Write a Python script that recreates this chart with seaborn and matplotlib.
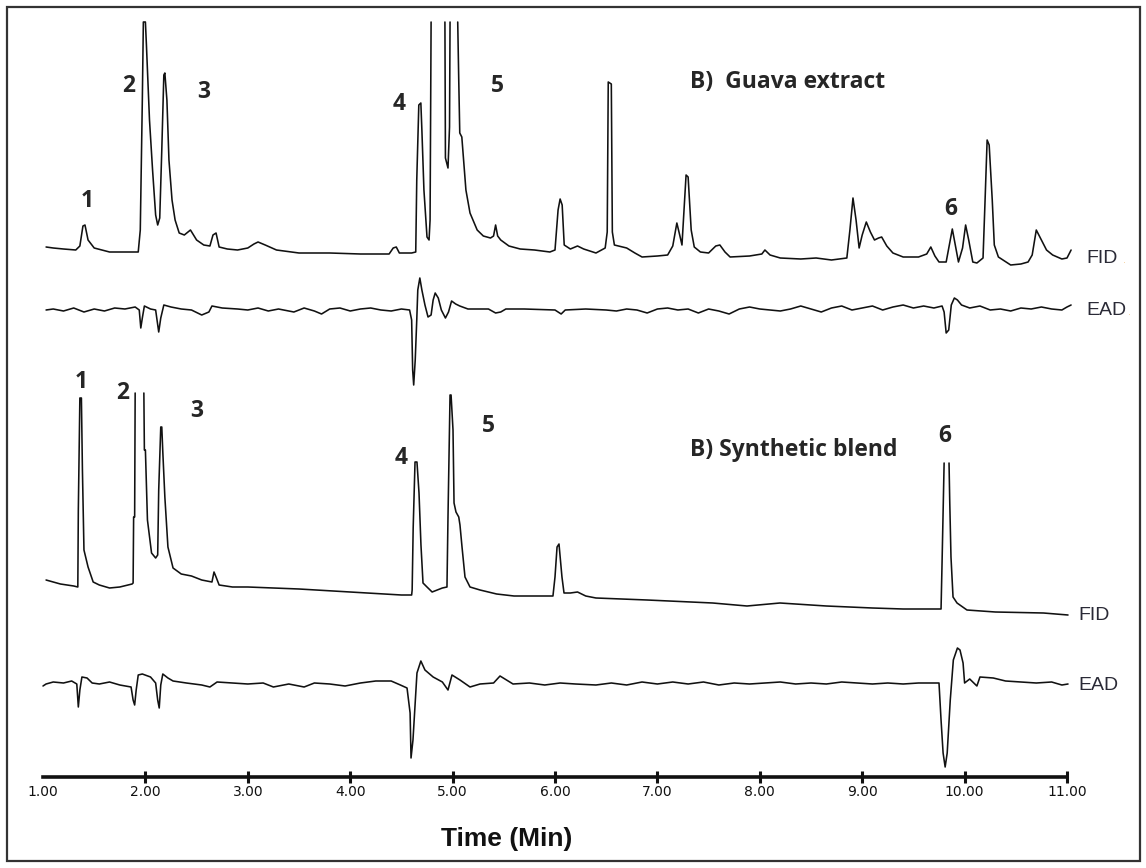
import numpy as np
import matplotlib
matplotlib.use("Agg")
import matplotlib.pyplot as plt
import seaborn as sns
from matplotlib.patches import Rectangle

nan = np.nan

# ---- data (retention time in min, detector response in arbitrary units) ----
# B) Guava extract, FID (nan = pen out of range)
guava_fid_time = [1.03, 1.10, 1.20, 1.32, 1.36, 1.39, 1.41, 1.44, 1.50, 1.65, 1.80, 1.93, 1.95, 1.97, 1.98,
                  2.00, 2.01, 2.04, 2.07, 2.10, 2.12, 2.14, 2.16, 2.18, 2.19, 2.21, 2.23, 2.26, 2.29, 2.33,
                  2.38, 2.44, 2.50, 2.57, 2.63, 2.66, 2.69, 2.72, 2.80, 2.90, 3.00, 3.06, 3.10, 3.17, 3.28,
                  3.50, 3.80, 4.10, 4.38, 4.42, 4.45, 4.48, 4.60, 4.64, 4.65, 4.67, 4.69, 4.70, 4.72, 4.75,
                  4.77, 4.78, 4.79, 4.86, 4.925, 4.93, 4.955, 4.97, 4.975, 5.01, 5.05, 5.06, 5.07, 5.09,
                  5.13, 5.17, 5.24, 5.30, 5.37, 5.40, 5.42, 5.44, 5.47, 5.55, 5.66, 5.80, 5.95, 6.00, 6.03,
                  6.05, 6.07, 6.09, 6.15, 6.22, 6.28, 6.40, 6.49, 6.51, 6.52, 6.55, 6.56, 6.58, 6.70, 6.78,
                  6.85, 7.00, 7.10, 7.15, 7.19, 7.22, 7.24, 7.26, 7.28, 7.30, 7.33, 7.36, 7.42, 7.50, 7.57,
                  7.61, 7.66, 7.71, 7.90, 8.02, 8.05, 8.10, 8.20, 8.40, 8.55, 8.70, 8.85, 8.88, 8.91, 8.94,
                  8.97, 9.00, 9.04, 9.08, 9.12, 9.16, 9.19, 9.24, 9.30, 9.40, 9.55, 9.63, 9.67, 9.71, 9.75,
                  9.82, 9.86, 9.88, 9.90, 9.94, 9.98, 10.01, 10.04, 10.08, 10.12, 10.18, 10.20, 10.22,
                  10.24, 10.27, 10.29, 10.33, 10.45, 10.55, 10.62, 10.66, 10.70, 10.74, 10.80, 10.86,
                  10.95, 11.00, 11.04]
guava_fid_signal = [8, 7, 6, 5, 9, 29, 30, 15, 7, 3, 3, 3, 25, 155, 233,
                    233, 210, 135, 85, 40, 30, 37, 105, 180, 182, 155, 95, 55, 35, 22,
                    20, 25, 15, 10, 9, 20, 22, 8, 6, 5, 7, 11, 13, 10, 5,
                    2, 2, 1, 1, 7, 8, 2, 2, 3, 75, 150, 152, 125, 65, 18,
                    15, 35, 233, nan, 233, 97, 87, 128, 233, nan, 233, 175, 122, 118,
                    65, 42, 25, 19, 17, 19, 30, 19, 15, 9, 6, 5, 3, 5, 45,
                    56, 50, 10, 6, 9, 6, 2, 7, 23, 173, 171, 23, 10, 7, 2,
                    -2, -1, 0, 9, 32, 19, 10, 45, 80, 78, 25, 8, 3, 2, 9,
                    10, 3, -2, -1, 1, 5, 0, -3, -4, -3, -5, -3, 25, 57, 35,
                    7, 20, 33, 23, 15, 17, 18, 9, 2, -2, -2, 1, 8, -1, -7,
                    -7, 15, 26, 15, -7, 7, 30, 15, -7, -8, -3, 55, 115,
                    110, 55, 10, -2, -10, -9, -7, 0, 25, 17, 5, 0,
                    -4, -3, 5]

# B) Guava extract, EAD
guava_ead_time = [1.03, 1.10, 1.20, 1.30, 1.40, 1.50, 1.60, 1.70, 1.80, 1.90, 1.94, 1.955, 1.97, 1.99,
                  2.05, 2.10, 2.13, 2.15, 2.18, 2.25, 2.35, 2.45, 2.55, 2.62, 2.65, 2.75, 2.90, 3.00,
                  3.10, 3.20, 3.30, 3.45, 3.55, 3.65, 3.72, 3.80, 3.90, 4.00, 4.10, 4.20, 4.30, 4.40,
                  4.50, 4.58, 4.60, 4.61, 4.62, 4.635, 4.65, 4.66, 4.68, 4.70, 4.73, 4.76, 4.79, 4.81,
                  4.83, 4.86, 4.89, 4.93, 4.96, 4.99, 5.03, 5.07, 5.15, 5.35, 5.42, 5.47, 5.52, 5.70,
                  6.00, 6.06, 6.10, 6.30, 6.50, 6.60, 6.70, 6.80, 6.90, 7.00, 7.10, 7.20, 7.30, 7.40,
                  7.50, 7.60, 7.70, 7.80, 7.90, 8.00, 8.10, 8.20, 8.30, 8.40, 8.50, 8.60, 8.70, 8.80,
                  8.90, 9.00, 9.10, 9.20, 9.30, 9.40, 9.50, 9.60, 9.70, 9.78, 9.80, 9.82, 9.845, 9.87,
                  9.90, 9.93, 9.97, 10.05, 10.15, 10.25, 10.35, 10.45, 10.55, 10.65, 10.75, 10.85,
                  10.95, 11.00, 11.04]
guava_ead_signal = [-1, 0, -2, 1, -3, 0, -2, 1, 0, 2, -1, -19, -9, 3,
                    0, -1, -23, -9, 4, 2, 0, -1, -6, -3, 3, 1, 0, -1,
                    1, -2, 0, -3, 1, -2, -5, 0, 1, -2, 0, 1, -1, -2,
                    0, -1, -11, -61, -76, -51, -11, 19, 31, 19, 4, -8, -6, 9,
                    16, 11, -1, -9, -3, 8, 5, 3, 0, 0, -4, -3, 0, 0,
                    -1, -5, -1, 0, -1, -2, 0, -1, -4, 0, 1, -1, 0, -4,
                    0, -2, -5, 0, 2, 0, -1, -2, 0, 3, 0, -3, 1, 3,
                    -1, 1, 3, -1, 2, 4, 1, 3, 1, 3, -3, -24, -21, 4,
                    11, 9, 4, 1, 3, -1, 0, -2, 1, 0, 2, 0,
                    -1, 2, 4]

# B) Synthetic blend, FID
blend_fid_time = [1.03, 1.10, 1.17, 1.30, 1.34, 1.345, 1.36, 1.375, 1.385, 1.40, 1.44, 1.49, 1.55, 1.65,
                  1.75, 1.87, 1.88, 1.885, 1.895, 1.90, 1.94, 1.985, 1.99, 2.00, 2.02, 2.06, 2.10, 2.12,
                  2.13, 2.15, 2.16, 2.17, 2.19, 2.22, 2.27, 2.35, 2.45, 2.55, 2.65, 2.67, 2.69, 2.72,
                  2.85, 3.00, 3.50, 4.00, 4.50, 4.60, 4.605, 4.615, 4.633, 4.652, 4.672, 4.691, 4.711,
                  4.75, 4.80, 4.90, 4.945, 4.955, 4.975, 4.985, 5.004, 5.014, 5.033, 5.06, 5.072, 5.092,
                  5.121, 5.17, 5.268, 5.43, 5.60, 5.98, 6.00, 6.02, 6.039, 6.068, 6.088, 6.15, 6.22,
                  6.30, 6.40, 6.90, 7.54, 7.875, 8.197, 8.65, 9.10, 9.40, 9.77, 9.78, 9.80, 9.82, 9.848,
                  9.855, 9.867, 9.887, 9.926, 10.023, 10.30, 10.77, 11.01]
blend_fid_signal = [5, 3, 1, -1, -2, 75, 187, 187, 115, 35, 18, 3, 0, -3,
                    -2, 1, 2, 68, 68, 192, nan, 192, 135, 135, 65, 32, 27, 30,
                    95, 158, 158, 133, 88, 38, 17, 11, 9, 5, 3, 13, 8, 0,
                    -2, -2, -4, -7, -10, -10, -5, 57, 123, 123, 92, 40, 2,
                    -2, -7, -3, -2, 68, 190, 190, 155, 82, 73, 68, 60, 38,
                    8, -2, -5, -9, -11, -11, 8, 38, 41, 8, -8, -8, -7,
                    -11, -13, -15, -18, -21, -18, -21, -23, -24, -24, 23, 122, nan, 122,
                    83, 28, -12, -18, -25, -27, -28, -30]

# B) Synthetic blend, EAD
blend_ead_time = [1.00, 1.03, 1.10, 1.20, 1.28, 1.33, 1.345, 1.36, 1.38, 1.43, 1.48, 1.55, 1.65, 1.75,
                  1.86, 1.88, 1.895, 1.91, 1.93, 1.97, 2.05, 2.10, 2.12, 2.135, 2.15, 2.17, 2.22, 2.27,
                  2.40, 2.55, 2.63, 2.70, 2.85, 3.00, 3.15, 3.25, 3.40, 3.55, 3.65, 3.80, 3.95, 4.10,
                  4.25, 4.40, 4.49, 4.555, 4.585, 4.594, 4.613, 4.652, 4.69, 4.73, 4.81, 4.90, 4.955,
                  4.994, 5.072, 5.17, 5.268, 5.40, 5.463, 5.59, 5.75, 5.90, 6.05, 6.20, 6.40, 6.55,
                  6.70, 6.85, 7.00, 7.15, 7.30, 7.45, 7.60, 7.75, 7.90, 8.05, 8.20, 8.35, 8.50, 8.65,
                  8.80, 8.95, 9.10, 9.25, 9.40, 9.55, 9.70, 9.75, 9.77, 9.79, 9.81, 9.83, 9.86, 9.89,
                  9.93, 9.955, 9.985, 10.00, 10.05, 10.12, 10.15, 10.28, 10.40, 10.55, 10.70, 10.85,
                  10.95, 11.01]
blend_ead_signal = [-3, -1, 1, 0, 2, -1, -24, -7, 6, 5, 0, -1, 1, -2,
                    -4, -17, -22, -7, 8, 9, 6, 0, -17, -25, -2, 9, 5, 2,
                    0, -2, -4, 1, 0, -1, 0, -4, -1, -4, 0, -1, -3, 0,
                    2, 2, -2, -5, -30, -75, -57, 10, 22, 13, 6, 1, -7,
                    8, 3, -4, -1, 0, 7, -1, 0, -2, 0, -1, -2, 0,
                    -2, 1, -1, 1, -1, 1, -2, 0, -1, 0, 1, -1, 0, -1,
                    1, 0, -1, 0, -1, 0, 0, 0, -37, -70, -84, -70, -17, 23,
                    35, 33, 20, 0, 4, -3, 6, 5, 2, 1, 0, 1,
                    -2, -1]

time_ticks = [1, 2, 3, 4, 5, 6, 7, 8, 9, 10, 11]

# ---- layout ----
W, H = 1146, 868
LINE = "#111111"
TXT = "#262626"

sns.set_theme(style="white")
plt.rcParams["font.family"] = ["DejaVu Sans"]

fig = plt.figure(figsize=(W / 100, H / 100), dpi=100)
# axes: x in minutes, y in screen rows (downwards) so traces can be stacked
ax = fig.add_axes([43 / W, (H - 777) / H, 1024 / W, 770 / H])
ax.set_xlim(1, 11)
ax.set_ylim(777, 7)
ax.set_facecolor("white")

traces = [
    (guava_fid_time, guava_fid_signal, 255),
    (guava_ead_time, guava_ead_signal, 309),
    (blend_fid_time, blend_fid_signal, 585),
    (blend_ead_time, blend_ead_signal, 683),
]

for t, s, base in traces:
    t = np.asarray(t, float)
    s = np.asarray(s, float)
    # split at gaps so the line breaks where the pen left the chart
    breaks = np.flatnonzero(np.isnan(s))
    start = 0
    for stop in list(breaks) + [len(s)]:
        if stop - start > 1:
            sns.lineplot(x=t[start:stop], y=base - s[start:stop], ax=ax, color=LINE,
                         linewidth=1.15, estimator=None, sort=False, clip_on=False)
        start = stop + 1

# time axis
for side in ["left", "top", "right"]:
    ax.spines[side].set_visible(False)
ax.spines["bottom"].set_linewidth(2.6)
ax.spines["bottom"].set_color(LINE)
ax.set_yticks([])
ax.set_xticks(time_ticks)
ax.set_xticklabels([f"{v:.2f}" for v in time_ticks])
ax.tick_params(axis="x", bottom=True, direction="inout", length=8, width=2.2, color=LINE,
               labelsize=10, pad=2, labelcolor=LINE)
ax.xaxis.get_major_ticks()[0].tick1line.set_visible(False)
ax.set_xlabel("Time (Min)", fontsize=19, fontweight="bold", color=LINE,
              family=["Liberation Sans", "DejaVu Sans"])
ax.xaxis.set_label_coords(464 / 1024, -(827 - 777) / 770)
ax.xaxis.label.set_va("top")

# peak numbers and titles
bold = dict(family=["Open Sans", "DejaVu Sans"], fontweight="bold", fontsize=16.5, color=TXT)
top_marks = [("1", 1.43, 207), ("2", 1.84, 92), ("3", 2.57, 98), ("4", 4.48, 110),
             ("5", 5.44, 92), ("6", 9.86, 215)]
bot_marks = [("1", 1.37, 388), ("2", 1.78, 399), ("3", 2.50, 417), ("4", 4.50, 464),
             ("5", 5.35, 432), ("6", 9.81, 442)]
for lab, x, y in top_marks + bot_marks:
    ax.text(x, y, lab, ha="center", va="baseline", **bold)
ax.text(7.32, 88, "B)  Guava extract", ha="left", va="baseline", **bold)
ax.text(7.32, 456, "B) Synthetic blend", ha="left", va="baseline", **bold)

# detector names
det = dict(family=["Liberation Sans", "DejaVu Sans"], fontsize=14, color="#2a2a36",
           ha="left", va="baseline")
ax.text(11.19, 263, "FID", **det)
ax.text(11.19, 315, "EAD", **det)
ax.text(11.11, 620, "FID", **det)
ax.text(11.11, 690, "EAD", **det)
ax.text(11.55, 263, ".", family="DejaVu Sans", fontsize=7, color="#f3cf9a", va="baseline")
ax.text(11.60, 315, ".", family="DejaVu Sans", fontsize=7, color="#f3cf9a", va="baseline")

# outer frame
fig.add_artist(Rectangle((7 / W, 1 - 861 / H), 1133 / W, 854 / H, transform=fig.transFigure,
                         fill=False, edgecolor="#333333", linewidth=1.6))

fig.savefig("out.png", dpi=100, facecolor="white")
